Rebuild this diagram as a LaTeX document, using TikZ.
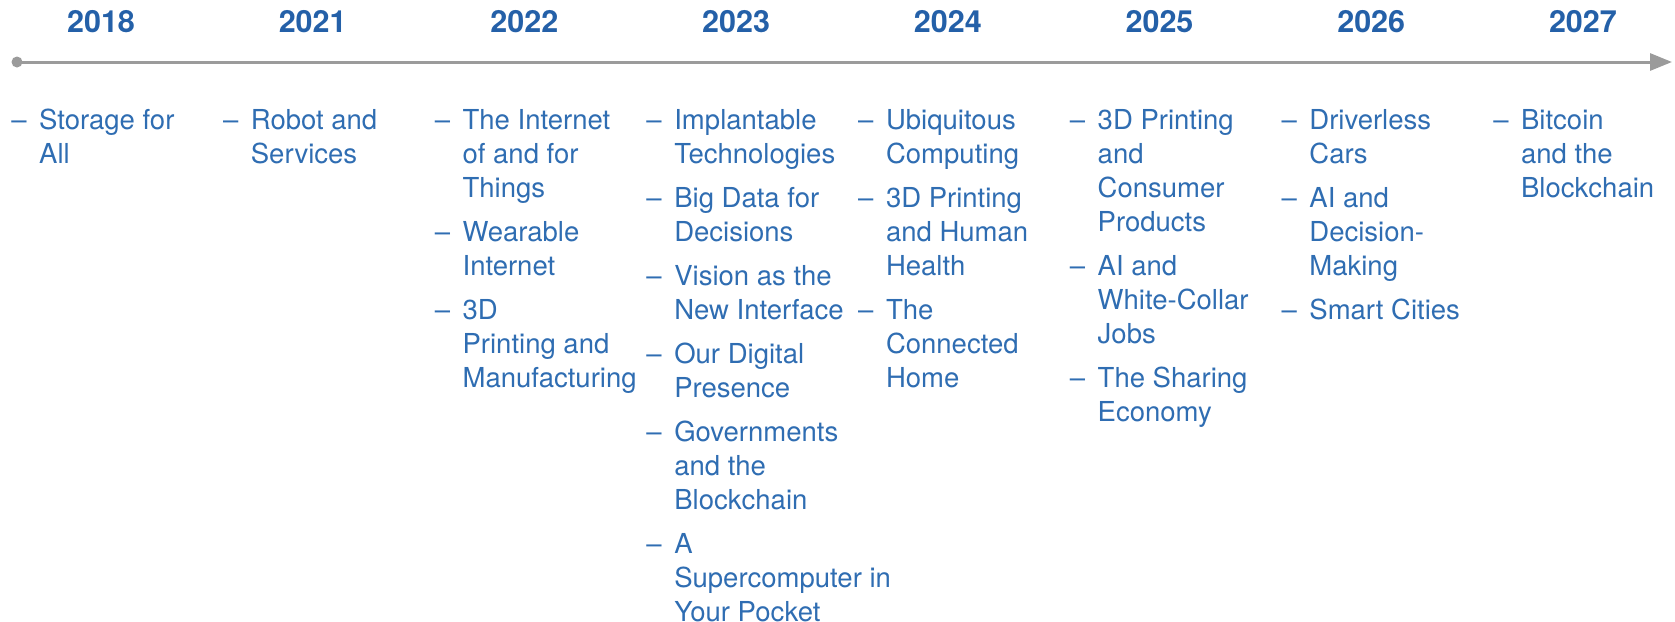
\documentclass[tikz,border=0pt]{standalone}
\usepackage{fontspec}
\setmainfont{TeX Gyre Heros}
\usetikzlibrary{arrows.meta}
\definecolor{itemblue}{RGB}{47,109,178}
\definecolor{yearblue}{RGB}{36,96,168}
\definecolor{axisgray}{RGB}{155,155,155}
\newcommand\itm[4]{%
  \node[dashmark] (#1d) at (#2-20,#3) {\textendash};
  \node[itemtext] (#1) at (#2,#3) {\begin{tabular}[t]{@{}l@{}}#4\end{tabular}};}
\begin{document}
\begin{tikzpicture}[x=1pt,y=-1pt,
  year/.style={anchor=base,inner sep=0pt,text=yearblue,font=\fontsize{30.5}{36}\selectfont\bfseries},
  itemtext/.style={anchor=base west,inner sep=0pt,text=itemblue,font=\fontsize{27.5}{34}\selectfont},
  dashmark/.style={anchor=base,inner sep=0pt,text=itemblue,font=\fontsize{27.5}{34}\selectfont},
  axis/.style={draw=axisgray,line width=3pt,-{Triangle[length=22pt,width=17pt]}},
  startdot/.style={circle,fill=axisgray,inner sep=0pt,minimum size=11pt}]
\useasboundingbox (0,0) rectangle (1675,621);
% years
\node[year] (y2018) at (101,32) {2018};
\node[year] (y2021) at (312.7,32) {2021};
\node[year] (y2022) at (524.4,32) {2022};
\node[year] (y2023) at (736.1,32) {2023};
\node[year] (y2024) at (947.8,32) {2024};
\node[year] (y2025) at (1159.5,32) {2025};
\node[year] (y2026) at (1371.2,32) {2026};
\node[year] (y2027) at (1582.9,32) {2027};
% axis
\node[startdot] (dot) at (17,62) {};
\coordinate (tip) at (1672,62);
\draw[axis] (dot.center) -- (tip);
% 2018
\itm{a1}{39}{129}{Storage for\\All}
% 2021
\itm{b1}{250.7}{129}{Robot and\\Services}
% 2022
\itm{c1}{462.4}{129}{The Internet\\of and for\\Things}
\itm{c2}{462.4}{241}{Wearable\\Internet}
\itm{c3}{462.4}{319}{3D\\Printing and\\Manufacturing}
% 2023
\itm{d1}{674.1}{129}{Implantable\\Technologies}
\itm{d2}{674.1}{207}{Big Data for\\Decisions}
\itm{d3}{674.1}{285}{Vision as the\\New Interface}
\itm{d4}{674.1}{363}{Our Digital\\Presence}
\itm{d5}{674.1}{441}{Governments\\and the\\Blockchain}
\itm{d6}{674.1}{553}{A\\Supercomputer in\\Your Pocket}
% 2024
\itm{e1}{885.8}{129}{Ubiquitous\\Computing}
\itm{e2}{885.8}{207}{3D Printing\\and Human\\Health}
\itm{e3}{885.8}{319}{The\\Connected\\Home}
% 2025
\itm{f1}{1097.5}{129}{3D Printing\\and\\Consumer\\Products}
\itm{f2}{1097.5}{275}{AI and\\White-Collar\\Jobs}
\itm{f3}{1097.5}{387}{The Sharing\\Economy}
% 2026
\itm{g1}{1309.2}{129}{Driverless\\Cars}
\itm{g2}{1309.2}{207}{AI and\\Decision-\\Making}
\itm{g3}{1309.2}{319}{Smart Cities}
% 2027
\itm{h1}{1520.9}{129}{Bitcoin\\and the\\Blockchain}
\end{tikzpicture}
\end{document}
